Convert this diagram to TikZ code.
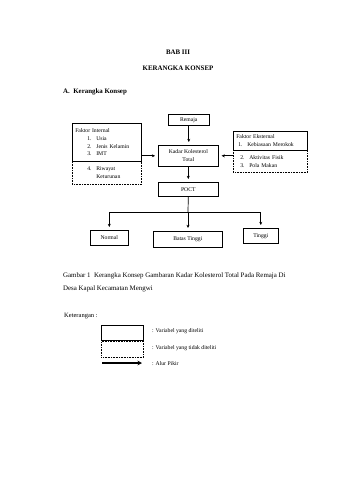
\documentclass[tikz,border=0pt]{standalone}
\usepackage{fontspec}
\setmainfont{Liberation Serif}
\usetikzlibrary{arrows.meta, positioning}

\newcommand\itm[2]{\hspace*{#1}\makebox[9pt][l]{#2}}

\begin{document}
\begin{tikzpicture}[
    x=1pt, y=-1pt,
    every node/.style={font=\fontsize{5.7}{7.7}\selectfont, inner sep=0pt},
    size/.style 2 args={minimum width=#1, minimum height=#2},
    box/.style={rectangle, draw, line width=0.6pt, anchor=north west, align=center},
    dotbox/.style={box, densely dotted},
    list/.style={text width=#1, inner xsep=3pt, align=left},
    head/.style={font=\fontsize{6.9}{8}\selectfont\bfseries},
    capt/.style={font=\fontsize{6.9}{8}\selectfont, anchor=base west},
    arrow/.style={line width=0.7pt, -{Stealth[length=3.2pt,width=3pt]}, shorten >=3pt}
]
    \fill[white] (0,0) rectangle (340,480);
    \useasboundingbox (0,0) rectangle (340,480);

    \node (bab) [head] at (178,52) {BAB III};
    \node (judul) [head] at (178,68) {KERANGKA KONSEP};
    \node (sub) [head, anchor=west] at (63,92) {A.\ \ Kerangka Konsep};

    \node (remaja) [box, size={41}{11}] at (168,114) {Remaja};
    \node (kadar) [box, size={60}{21}] at (158,145) {Kadar Kolesterol\\Total};
    \node (poct) [box, size={60}{14}] at (158,182) {POCT};

    \node (intA) [box, list=63pt, minimum height=38] at (72,123)
        {Faktor Internal\\\itm{12pt}{1.}Usia\\\itm{12pt}{2.}Jenis Kelamin\\\itm{12pt}{3.}IMT};
    \node (intB) [dotbox, list=63pt, minimum height=23] at (72,161)
        {\itm{12pt}{4.}Riwayat\\\itm{12pt}{}Keturunan};
    \node (ekstA) [box, list=68pt, minimum height=19] at (233,131)
        {Faktor Eksternal\\\itm{2pt}{1.}Kebiasaan Merokok};
    \node (ekstB) [dotbox, list=68pt, minimum height=22] at (233,150)
        {\itm{4pt}{2.}Aktivitas Fisik\\\itm{4pt}{3.}Pola Makan};

    \node (normal) [box, size={38}{15}] at (90,230) {Normal};
    \node (batas) [box, size={69}{16}] at (153,231) {Batas Tinggi};
    \node (tinggi) [box, size={35}{15}] at (243,228) {Tinggi};

    \draw [arrow] (remaja.south) -- (remaja.south |- kadar.north);
    \draw [arrow] (kadar.south) -- (kadar.south |- poct.north);
    \draw [arrow] (intA.east |- kadar.west) -- (kadar.west);
    \draw [arrow] (ekstB.west |- kadar.east) -- (kadar.east);

    \coordinate (split) at (188,212);
    \draw [line width=0.7pt] (poct.south) -- (split);
    \draw [arrow] (split) -| (normal.north);
    \draw [arrow] (split) -- (split |- batas.north);
    \draw [arrow] (split) -| (tinggi.north);

    \node (cap1) [capt] at (63,277) {Gambar 1\ \ Kerangka Konsep Gambaran Kadar Kolesterol Total Pada Remaja Di};
    \node (cap2) [capt] at (63,290) {Desa Kapal Kecamatan Mengwi};

    \node (ket) [anchor=base west, font=\fontsize{6.5}{8}\selectfont] at (64,317) {Keterangan :};
    \node (legA) [box, size={42}{15}] at (101,325) {};
    \node (legB) [dotbox, size={42}{16}] at (101,341) {};
    \coordinate (legS) at (102,363);
    \coordinate (legE) at (142,363);
    \draw [line width=1.4pt, -{Stealth[length=4.5pt,width=4.5pt]}] (legS) -- (legE);

    \node (lblA) [anchor=base west] at (152,332) {: Variabel yang diteliti};
    \node (lblB) [anchor=base west] at (152,349) {: Variabel yang tidak diteliti};
    \node (lblC) [anchor=base west] at (152,365) {: Alur Pikir};
\end{tikzpicture}
\end{document}
